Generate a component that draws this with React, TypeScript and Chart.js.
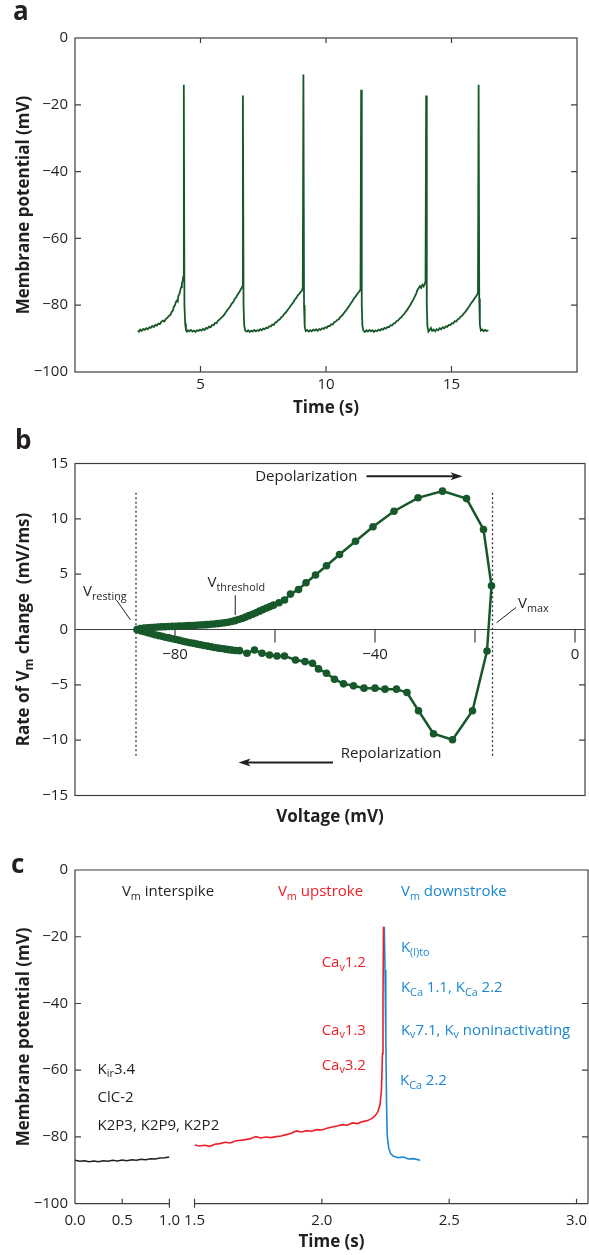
import React, { useEffect, useRef } from "react";
import { Chart, registerables } from "chart.js";

Chart.register(...registerables);

const FONT = "'Open Sans', 'Noto Sans', 'DejaVu Sans', sans-serif";
const INK = "#231f20";
const FRAME = "#3f3f3f";
const GREEN = "#17582a";
const RED = "#ec1f26";
const BLUE = "#1c87d1";

// ---------------- Panel a : spontaneous firing ----------------
const panelAYTicks = [0, -20, -40, -60, -80, -100];
const panelAXTicks = [5, 10, 15];
const traceA: [number, number][] = [
  [2.5, -87.6], [2.55, -87.9], [2.6, -87.3], [2.66, -87.7], [2.72, -87.1], [2.78, -87.4], [2.84, -86.9], [2.9, -87.2],
  [2.96, -86.6], [3.02, -86.8], [3.08, -86.2], [3.14, -86.5], [3.2, -85.9], [3.26, -86.1], [3.32, -85.5], [3.38, -85.7],
  [3.44, -85.0], [3.5, -84.6], [3.56, -84.9], [3.62, -84.1], [3.68, -83.8], [3.74, -83.2], [3.8, -82.9], [3.86, -81.9],
  [3.9, -81.6], [3.94, -80.4], [3.98, -80.1], [4.02, -79.0], [4.06, -78.6], [4.09, -78.9], [4.12, -77.2], [4.16, -76.6],
  [4.2, -75.4], [4.23, -74.6], [4.26, -73.5], [4.29, -72.7], [4.31, -71.5], [4.335, -14.0], [4.36, -80],
  [4.39, -85.5], [4.42, -87.4], [4.46, -87.9], [4.5, -87.5],
  [4.56, -87.8], [4.62, -87.4], [4.68, -87.9], [4.74, -87.6], [4.8, -88.0], [4.86, -87.5], [4.92, -87.7], [4.98, -87.3],
  [5.04, -87.6], [5.1, -87.1], [5.16, -87.4], [5.22, -86.8], [5.28, -87.0], [5.34, -86.4], [5.4, -86.6], [5.46, -85.9],
  [5.52, -86.0], [5.58, -85.3], [5.64, -85.4], [5.7, -84.6], [5.76, -84.3], [5.82, -83.8], [5.88, -83.4], [5.94, -82.9],
  [6.0, -82.2], [6.06, -81.6], [6.12, -81.0], [6.18, -80.4], [6.24, -79.6], [6.3, -79.1], [6.36, -78.2], [6.42, -77.6],
  [6.48, -76.8], [6.53, -76.3], [6.58, -75.6], [6.62, -75.1], [6.665, -74.4], [6.69, -17.2], [6.715, -80],
  [6.74, -86], [6.78, -87.6], [6.84, -87.9],
  [6.9, -87.5], [6.96, -88.0], [7.02, -87.6], [7.08, -87.9], [7.14, -87.4], [7.2, -87.8], [7.26, -87.5], [7.32, -87.7],
  [7.38, -87.2], [7.44, -87.5], [7.5, -87.0], [7.56, -87.2], [7.62, -86.7], [7.68, -86.9], [7.74, -86.3], [7.8, -86.4],
  [7.86, -85.8], [7.92, -85.9], [7.98, -85.2], [8.04, -85.0], [8.1, -84.5], [8.16, -84.2], [8.22, -83.6], [8.28, -83.3],
  [8.34, -82.6], [8.4, -82.2], [8.46, -81.5], [8.52, -81.0], [8.58, -80.3], [8.64, -79.7], [8.7, -79.1], [8.76, -78.3],
  [8.82, -77.8], [8.88, -77.0], [8.94, -76.6], [8.99, -76.0], [9.04, -75.7], [9.075, -74.8], [9.1, -10.9],
  [9.125, -80], [9.15, -86.2], [9.19, -87.7], [9.25, -87.4],
  [9.31, -87.9], [9.37, -87.5], [9.43, -87.8], [9.49, -87.3], [9.55, -87.6], [9.61, -87.2], [9.67, -87.7], [9.73, -87.1],
  [9.79, -87.4], [9.85, -86.9], [9.91, -87.1], [9.97, -86.6], [10.03, -86.8], [10.09, -86.2], [10.15, -86.3], [10.21, -85.7],
  [10.27, -85.8], [10.33, -85.1], [10.39, -84.9], [10.45, -84.4], [10.51, -84.2], [10.57, -83.5], [10.63, -83.2], [10.69, -82.6],
  [10.75, -82.0], [10.81, -81.5], [10.87, -80.8], [10.93, -80.2], [10.99, -79.4], [11.05, -78.8], [11.11, -78.0], [11.17, -77.5],
  [11.23, -76.8], [11.28, -76.3], [11.33, -75.9], [11.375, -75.2], [11.4, -15.5], [11.425, -80],
  [11.45, -86.1], [11.49, -87.6], [11.55, -88.0],
  [11.61, -87.5], [11.67, -87.9], [11.73, -87.4], [11.79, -87.8], [11.85, -87.5], [11.91, -88.0], [11.97, -87.6], [12.03, -87.8],
  [12.09, -87.3], [12.15, -87.6], [12.21, -87.1], [12.27, -87.3], [12.33, -86.8], [12.39, -87.0], [12.45, -86.5], [12.51, -86.6],
  [12.57, -86.0], [12.63, -86.1], [12.69, -85.5], [12.75, -85.4], [12.81, -84.8], [12.87, -84.6], [12.93, -84.0], [12.99, -83.7],
  [13.05, -83.1], [13.11, -82.7], [13.17, -82.0], [13.23, -81.5], [13.29, -80.7], [13.35, -80.1], [13.41, -79.2], [13.47, -78.5],
  [13.53, -77.5], [13.59, -76.6], [13.64, -75.5], [13.69, -74.9], [13.74, -74.3], [13.79, -74.8], [13.84, -73.9], [13.89, -74.4],
  [13.93, -73.6], [13.965, -72.9], [13.99, -17.2], [14.015, -80], [14.04, -86.3], [14.08, -87.9],
  [14.13, -87.4],
  [14.18, -86.8], [14.23, -87.7], [14.29, -87.3], [14.35, -87.8], [14.41, -87.2], [14.47, -87.5], [14.53, -86.9], [14.59, -87.2],
  [14.65, -86.6], [14.71, -86.9], [14.77, -86.3], [14.83, -86.5], [14.89, -85.9], [14.95, -86.0], [15.01, -85.4], [15.07, -85.5],
  [15.13, -84.8], [15.19, -84.9], [15.25, -84.2], [15.31, -84.0], [15.37, -83.4], [15.43, -83.1], [15.49, -82.5], [15.55, -82.0],
  [15.61, -81.4], [15.67, -80.7], [15.73, -80.1], [15.79, -79.3], [15.85, -78.8], [15.91, -78.0], [15.96, -77.6], [16.01, -77.0],
  [16.055, -76.2], [16.08, -14.0], [16.105, -78], [16.13, -85.8], [16.17, -87.6], [16.22, -87.3],
  [16.28, -87.8], [16.34, -87.4], [16.4, -87.7], [16.47, -87.5],
];

// ---------------- Panel b : phase plot ----------------
const phaseVoltage = [
  -87.6, -86.9, -86.2, -85.5, -84.8, -84.1, -83.4, -82.7, -82.0, -81.3, -80.6, -79.9, -79.2, -78.5, -77.8, -77.1,
  -76.4, -75.7, -75.0, -74.3, -73.6, -72.9, -72.2, -71.5, -70.8, -70.1, -69.4, -68.7, -68.0, -67.3, -66.6, -65.9,
  -65.2, -64.5, -63.8, -63.1, -62.4, -61.7, -61.0, -60.3, -59.2, -58.1, -56.9, -55.3, -53.8, -51.9, -49.7, -47.1,
  -43.9, -40.4, -36.2, -31.4, -26.5, -21.7, -18.3, -16.7,
  -17.6, -20.5, -24.5, -28.3, -31.3, -33.6, -35.7, -38.0, -40.0, -42.2, -44.3, -46.3, -48.1, -49.7, -51.3, -52.5,
  -54.0, -55.9, -58.1, -59.6, -61.1, -62.6, -64.1, -65.6, -67.1, -67.9, -68.6, -69.3, -70.0, -70.7, -71.4, -72.1,
  -72.8, -73.5, -74.2, -74.9, -75.6, -76.3, -77.0, -77.7, -78.4, -79.1, -79.8, -80.5, -81.2, -81.9, -82.6, -83.3,
  -84.0, -84.7, -85.4, -86.1, -86.8, -87.5,
];
const phaseRate = [
  0.0, 0.08, 0.12, 0.15, 0.18, 0.2, 0.22, 0.24, 0.25, 0.27, 0.28, 0.3, 0.31, 0.32, 0.33, 0.35,
  0.36, 0.38, 0.4, 0.42, 0.44, 0.47, 0.5, 0.53, 0.57, 0.61, 0.66, 0.72, 0.8, 0.9, 1.0, 1.12,
  1.25, 1.38, 1.52, 1.66, 1.8, 1.94, 2.07, 2.2, 2.42, 2.66, 3.2, 3.62, 4.23, 4.92, 5.76, 6.78,
  7.98, 9.28, 10.69, 11.9, 12.5, 11.83, 9.04, 3.95,
  -1.94, -7.34, -9.96, -9.42, -7.34, -5.69, -5.39, -5.39, -5.3, -5.3, -5.09, -4.91, -4.49, -3.95, -3.56, -3.05,
  -2.9, -2.75, -2.39, -2.39, -2.3, -2.15, -1.85, -2.15, -1.91, -1.9, -1.86, -1.82, -1.77, -1.72, -1.68, -1.62,
  -1.56, -1.5, -1.44, -1.38, -1.32, -1.25, -1.2, -1.13, -1.06, -0.98, -0.9, -0.83, -0.76, -0.7, -0.62, -0.55,
  -0.47, -0.39, -0.3, -0.21, -0.12, -0.02,
];
const panelBXTicks = [-80, -60, -40, -20, 0];
const panelBXLabels = [-80, -40, 0];
const panelBYTicks = [15, 10, 5, 0, -5, -10, -15];
const vResting = -87.8;
const vMax = -16.5;

// ---------------- Panel c : one spike, broken time axis ----------------
const interspikeTrace: [number, number][] = [
  [0, -87.0], [0.05, -87.3], [0.1, -87.1], [0.15, -87.4], [0.2, -87.2], [0.25, -87.4], [0.3, -87.1], [0.35, -87.3],
  [0.4, -87.0], [0.45, -87.2], [0.5, -86.9], [0.55, -87.1], [0.6, -86.8], [0.65, -87.0], [0.7, -86.7], [0.75, -86.8],
  [0.8, -86.5], [0.85, -86.6], [0.9, -86.3], [0.95, -86.2], [1.0, -86.0],
];
const upstrokeTrace: [number, number][] = [
  [1.5, -82.4], [1.52, -82.7], [1.54, -82.5], [1.56, -82.8], [1.58, -82.2], [1.6, -82.0], [1.62, -81.6], [1.64, -81.8],
  [1.66, -81.2], [1.68, -81.0], [1.7, -80.8], [1.72, -80.5], [1.74, -79.9], [1.76, -80.3], [1.78, -80.0], [1.8, -80.2],
  [1.82, -79.9], [1.84, -79.7], [1.86, -79.3], [1.88, -78.9], [1.9, -78.2], [1.92, -78.5], [1.94, -78.1], [1.96, -78.3],
  [1.98, -77.8], [2.0, -77.9], [2.02, -77.4], [2.04, -77.0], [2.06, -76.7], [2.08, -76.3], [2.1, -76.5], [2.12, -75.8],
  [2.14, -76.0], [2.16, -75.4], [2.18, -75.1], [2.2, -74.3], [2.21, -73.6], [2.22, -72.4], [2.228, -70.5], [2.234, -66],
  [2.238, -55], [2.24, -40], [2.242, -17.0],
];
const downstrokeTrace: [number, number][] = [
  [2.245, -17.0], [2.248, -30], [2.251, -50], [2.254, -70], [2.257, -80], [2.263, -83.5], [2.27, -85.0], [2.28, -85.7],
  [2.3, -86.2], [2.32, -86.0], [2.34, -86.6], [2.36, -86.5], [2.386, -87.0],
];
const panelCYTicks = [0, -20, -40, -60, -80, -100];
const panelCXTicksLeft = [0, 0.5, 1.0];
const panelCXTicksRight = [1.5, 2.0, 2.5, 3.0];
const breakStart = 1.0;
const breakEnd = 1.5;

// ---------------- helpers ----------------
const fmtMinus = (v: number) => (v < 0 ? "\u2212" + Math.abs(v) : String(v));
type Seg = [string, boolean?];

function drawRich(ctx: any, segs: Seg[], x: number, y: number, size: number, color: string, align = "left", weight = "normal") {
  const sub = size * 0.72;
  let w = 0;
  for (const [t, s] of segs) {
    ctx.font = `${weight} ${s ? sub : size}px ${FONT}`;
    w += ctx.measureText(t).width;
  }
  let cx = align === "left" ? x : align === "right" ? x - w : x - w / 2;
  ctx.fillStyle = color;
  ctx.textAlign = "left";
  ctx.textBaseline = "alphabetic";
  for (const [t, s] of segs) {
    ctx.font = `${weight} ${s ? sub : size}px ${FONT}`;
    ctx.fillText(t, cx, s ? y + size * 0.24 : y);
    cx += ctx.measureText(t).width;
  }
}

function drawVTitle(ctx: any, segs: Seg[], cx: number, cy: number, size: number) {
  ctx.save();
  ctx.translate(cx, cy);
  ctx.rotate(-Math.PI / 2);
  drawRich(ctx, segs, 0, size * 0.36, size, INK, "center", "bold");
  ctx.restore();
}

function arrowH(ctx: any, x1: number, x2: number, y: number) {
  const dir = Math.sign(x2 - x1);
  ctx.save();
  ctx.strokeStyle = INK;
  ctx.fillStyle = INK;
  ctx.lineWidth = 2;
  ctx.beginPath();
  ctx.moveTo(x1, y);
  ctx.lineTo(x2 - dir * 8, y);
  ctx.stroke();
  ctx.beginPath();
  ctx.moveTo(x2, y);
  ctx.lineTo(x2 - dir * 12, y - 4);
  ctx.lineTo(x2 - dir * 9, y);
  ctx.lineTo(x2 - dir * 12, y + 4);
  ctx.closePath();
  ctx.fill();
  ctx.restore();
}

function line(ctx: any, x1: number, y1: number, x2: number, y2: number) {
  ctx.moveTo(x1, y1);
  ctx.lineTo(x2, y2);
}

const tickFont = { size: 15, family: FONT };

function yAxis(min: number, max: number, values: number[]) {
  return {
    type: "linear",
    position: "left",
    min,
    max,
    grid: { display: false, drawTicks: false },
    border: { display: false },
    afterBuildTicks: (s: any) => {
      s.ticks = values.map((v) => ({ value: v }));
    },
    afterFit: (s: any) => {
      s.width = 75;
    },
    ticks: { padding: 7, color: INK, font: tickFont, autoSkip: false, callback: (v: number) => fmtMinus(v) },
  };
}

function xAxis(min: number, max: number, values: number[], labels: (v: number) => string, height: number, padding: number, extra: any = {}) {
  return {
    type: "linear",
    axis: "x",
    position: "bottom",
    min,
    max,
    grid: { display: false, drawTicks: false },
    border: { display: false },
    afterBuildTicks: (s: any) => {
      s.ticks = values.map((v) => ({ value: v }));
    },
    afterFit: (s: any) => {
      s.height = height;
      s.paddingLeft = 0;
      s.paddingRight = 0;
    },
    ticks: { padding, color: INK, font: tickFont, autoSkip: false, maxRotation: 0, callback: labels },
    ...extra,
  };
}

const baseOptions = {
  animation: false,
  responsive: false,
  maintainAspectRatio: false,
  events: [],
  plugins: { legend: { display: false }, tooltip: { enabled: false } },
};

// ---------------- chart configs ----------------
function configA(): any {
  const plugin = {
    id: "panelA",
    beforeDatasetsDraw(chart: any) {
      const { ctx, chartArea: ca } = chart;
      const xs = chart.scales.x;
      const ys = chart.scales.y;
      ctx.save();
      ctx.strokeStyle = FRAME;
      ctx.lineWidth = 1.2;
      ctx.strokeRect(ca.left, ca.top, ca.right - ca.left, ca.bottom - ca.top);
      ctx.beginPath();
      panelAXTicks.forEach((v) => {
        const px = xs.getPixelForValue(v);
        line(ctx, px, ca.bottom, px, ca.bottom - 6);
        line(ctx, px, ca.top, px, ca.top + 5);
      });
      panelAYTicks.slice(1, -1).forEach((v) => {
        const py = ys.getPixelForValue(v);
        line(ctx, ca.left, py, ca.left + 6, py);
        line(ctx, ca.right, py, ca.right - 6, py);
      });
      ctx.stroke();
      ctx.restore();
    },
    afterDraw(chart: any) {
      const { ctx, chartArea: ca } = chart;
      ctx.save();
      drawRich(ctx, [["a"]], 13, 20, 26, INK, "left", "bold");
      drawVTitle(ctx, [["Membrane potential (mV)"]], 22.5, (ca.top + ca.bottom) / 2, 17);
      drawRich(ctx, [["Time (s)"]], (ca.left + ca.right) / 2, 413.3, 17, INK, "center", "bold");
      ctx.restore();
    },
  };
  return {
    type: "scatter",
    data: {
      datasets: [
        {
          data: traceA.map(([x, y]) => ({ x, y })),
          showLine: true,
          borderColor: GREEN,
          borderWidth: 1.8,
          pointRadius: 0,
          tension: 0,
        },
      ],
    },
    options: {
      ...baseOptions,
      layout: { padding: { top: 38, left: 0, right: 12, bottom: 0 } },
      scales: {
        y: yAxis(-100, 0, panelAYTicks),
        x: xAxis(0, 20, [0, ...panelAXTicks, 20], (v: number) => (panelAXTicks.includes(v) ? String(v) : ""), 48, 4),
      },
    },
    plugins: [plugin],
  };
}

function configB(): any {
  const plugin = {
    id: "panelB",
    beforeDatasetsDraw(chart: any) {
      const { ctx, chartArea: ca } = chart;
      const xs = chart.scales.x;
      const ys = chart.scales.y;
      ctx.save();
      ctx.strokeStyle = FRAME;
      ctx.lineWidth = 1.2;
      ctx.strokeRect(ca.left, ca.top, ca.right - ca.left, ca.bottom - ca.top);
      const y0 = ys.getPixelForValue(0);
      ctx.beginPath();
      line(ctx, ca.left, y0, ca.right, y0);
      panelBYTicks.forEach((v) => {
        if (v === 0 || v === 15 || v === -15) return;
        const py = ys.getPixelForValue(v);
        line(ctx, ca.left, py, ca.left + 6, py);
        line(ctx, ca.right, py, ca.right - 6, py);
      });
      panelBXTicks.forEach((v) => {
        const px = xs.getPixelForValue(v);
        line(ctx, px, y0, px, y0 + 13);
      });
      ctx.stroke();
      // dotted markers for V resting and V max
      ctx.setLineDash([2, 2.5]);
      ctx.lineWidth = 1.3;
      ctx.strokeStyle = "#333";
      ctx.beginPath();
      [vResting, vMax].forEach((v) => {
        const px = xs.getPixelForValue(v);
        line(ctx, px, ys.getPixelForValue(12.35), px, ys.getPixelForValue(-11.4));
      });
      ctx.stroke();
      ctx.restore();
    },
    afterDraw(chart: any) {
      const { ctx, chartArea: ca } = chart;
      const xs = chart.scales.x;
      const ys = chart.scales.y;
      const X = (v: number) => xs.getPixelForValue(v);
      const Y = (v: number) => ys.getPixelForValue(v);
      ctx.save();
      drawRich(ctx, [["b"]], 15, 29, 26, INK, "left", "bold");
      drawVTitle(ctx, [["Rate of V"], ["m", true], [" change  (mV/ms)"]], 22.5, (ca.top + ca.bottom) / 2, 17);
      drawRich(ctx, [["Voltage (mV)"]], (ca.left + ca.right) / 2, 401.5, 17, INK, "center", "bold");

      drawRich(ctx, [["Depolarization"]], X(-43.5), Y(13.41), 15, INK, "right");
      arrowH(ctx, X(-41.7), X(-22.5), Y(13.85));
      drawRich(ctx, [["Repolarization"]], X(-46.85), Y(-11.6), 15, INK, "left");
      arrowH(ctx, X(-48.4), X(-67.3), Y(-12.02));

      drawRich(ctx, [["V"], ["resting", true]], X(-98.4), Y(3.02), 15, INK, "left");
      drawRich(ctx, [["V"], ["threshold", true]], X(-73.5), Y(3.84), 15, INK, "left");
      drawRich(ctx, [["V"], ["max", true]], X(-11.4), Y(1.94), 15, INK, "left");
      ctx.strokeStyle = INK;
      ctx.lineWidth = 1;
      ctx.beginPath();
      line(ctx, X(-91.7), Y(2.66), X(-88.9), Y(0.86));
      line(ctx, X(-67.95), Y(3.11), X(-67.95), Y(1.31));
      line(ctx, X(-11.78), Y(1.99), X(-15.7), Y(0.61));
      ctx.stroke();
      ctx.restore();
    },
  };
  return {
    type: "scatter",
    data: {
      datasets: [
        {
          data: phaseVoltage.map((v, i) => ({ x: v, y: phaseRate[i] })),
          showLine: true,
          borderColor: GREEN,
          borderWidth: 2.5,
          pointRadius: 3.8,
          pointBackgroundColor: GREEN,
          pointBorderWidth: 0,
          tension: 0,
        },
      ],
    },
    options: {
      ...baseOptions,
      layout: { padding: { top: 43.5, left: 0, right: 1, bottom: 44.5 } },
      scales: {
        y: yAxis(-15, 15, panelBYTicks),
        x: {
          type: "linear",
          min: -100,
          max: 2,
          position: { y: 0 },
          grid: { display: false, drawTicks: false },
          border: { display: false },
          afterBuildTicks: (s: any) => {
            s.ticks = panelBXTicks.map((v) => ({ value: v }));
          },
          afterFit: (s: any) => {
            s.paddingLeft = 0;
            s.paddingRight = 0;
          },
          ticks: {
            padding: 16.5,
            color: INK,
            font: tickFont,
            autoSkip: false,
            maxRotation: 0,
            callback: (v: number) => (panelBXLabels.includes(v) ? fmtMinus(v) : ""),
          },
        },
      },
    },
    plugins: [plugin],
  };
}

function configC(): any {
  const plugin = {
    id: "panelC",
    beforeDatasetsDraw(chart: any) {
      const { ctx, chartArea: ca } = chart;
      const xa = chart.scales.xa;
      const xb = chart.scales.xb;
      const ys = chart.scales.y;
      const pBreak1 = xa.getPixelForValue(breakStart);
      const pBreak2 = xb.getPixelForValue(breakEnd);
      ctx.save();
      ctx.strokeStyle = FRAME;
      ctx.lineWidth = 1.2;
      ctx.beginPath();
      ctx.moveTo(ca.left, ca.bottom);
      ctx.lineTo(ca.left, ca.top);
      ctx.lineTo(ca.right, ca.top);
      ctx.lineTo(ca.right, ca.bottom);
      ctx.stroke();
      ctx.beginPath();
      line(ctx, ca.left, ca.bottom, pBreak1, ca.bottom);
      line(ctx, pBreak2, ca.bottom, ca.right, ca.bottom);
      line(ctx, pBreak1, ca.bottom + 4, pBreak1, ca.bottom - 5);
      line(ctx, pBreak2, ca.bottom + 4, pBreak2, ca.bottom - 5);
      panelCXTicksLeft.forEach((v) => {
        if (v === 0) return;
        const px = xa.getPixelForValue(v);
        line(ctx, px, ca.bottom, px, ca.bottom - 5);
      });
      panelCXTicksRight.forEach((v) => {
        const px = xb.getPixelForValue(v);
        line(ctx, px, ca.bottom, px, ca.bottom - 5);
      });
      panelCYTicks.slice(1, -1).forEach((v) => {
        const py = ys.getPixelForValue(v);
        line(ctx, ca.left, py, ca.left + 6, py);
        line(ctx, ca.right, py, ca.right - 6, py);
      });
      ctx.stroke();
      ctx.restore();
    },
    afterDraw(chart: any) {
      const { ctx, chartArea: ca } = chart;
      const xa = chart.scales.xa;
      const xb = chart.scales.xb;
      const ys = chart.scales.y;
      const A = (v: number) => xa.getPixelForValue(v);
      const B = (v: number) => xb.getPixelForValue(v);
      const Y = (v: number) => ys.getPixelForValue(v);
      ctx.save();
      drawRich(ctx, [["c"]], 11, 33, 26, INK, "left", "bold");
      drawVTitle(ctx, [["Membrane potential (mV)"]], 22.5, (ca.top + ca.bottom) / 2, 17);
      drawRich(ctx, [["Time (s)"]], (ca.left + ca.right) / 2, 406.5, 17, INK, "center", "bold");

      drawRich(ctx, [["V"], ["m", true], [" interspike"]], A(0.497), Y(-7.94), 15, INK);
      drawRich(ctx, [["V"], ["m", true], [" upstroke"]], B(1.8275), Y(-7.94), 15, RED);
      drawRich(ctx, [["V"], ["m", true], [" downstroke"]], B(2.3105), Y(-7.94), 15, BLUE);

      drawRich(ctx, [["Ca"], ["v", true], ["1.2"]], B(2.173), Y(-29.2), 15, RED, "right");
      drawRich(ctx, [["Ca"], ["v", true], ["1.3"]], B(2.173), Y(-49.4), 15, RED, "right");
      drawRich(ctx, [["Ca"], ["v", true], ["3.2"]], B(2.173), Y(-59.8), 15, RED, "right");

      drawRich(ctx, [["K"], ["(l)to", true]], B(2.3105), Y(-24.7), 15, BLUE);
      drawRich(ctx, [["K"], ["Ca", true], [" 1.1, K"], ["Ca", true], [" 2.2"]], B(2.3105), Y(-36.7), 15, BLUE);
      drawRich(ctx, [["K"], ["v", true], ["7.1, K"], ["v", true], [" noninactivating"]], B(2.3105), Y(-49.4), 15, BLUE);
      drawRich(ctx, [["K"], ["Ca", true], [" 2.2"]], B(2.3066), Y(-64.4), 15, BLUE);

      drawRich(ctx, [["K"], ["ir", true], ["3.4"]], A(0.239), Y(-61.0), 15, INK);
      drawRich(ctx, [["ClC-2"]], A(0.239), Y(-69.4), 15, INK);
      drawRich(ctx, [["K2P3, K2P9, K2P2"]], A(0.239), Y(-77.8), 15, INK);
      ctx.restore();
    },
  };
  const fmt1 = (v: number) => v.toFixed(1);
  return {
    type: "scatter",
    data: {
      datasets: [
        {
          data: interspikeTrace.map(([x, y]) => ({ x, y })),
          xAxisID: "xa",
          yAxisID: "y",
          showLine: true,
          borderColor: INK,
          borderWidth: 1.5,
          pointRadius: 0,
        },
        {
          data: upstrokeTrace.map(([x, y]) => ({ x, y })),
          xAxisID: "xb",
          yAxisID: "y",
          showLine: true,
          borderColor: RED,
          borderWidth: 1.6,
          pointRadius: 0,
        },
        {
          data: downstrokeTrace.map(([x, y]) => ({ x, y })),
          xAxisID: "xb",
          yAxisID: "y",
          showLine: true,
          borderColor: BLUE,
          borderWidth: 1.6,
          pointRadius: 0,
        },
      ],
    },
    options: {
      ...baseOptions,
      layout: { padding: { top: 30, left: 0, right: 1, bottom: 0 } },
      scales: {
        y: yAxis(-100, 0, panelCYTicks),
        xa: xAxis(0, breakStart, panelCXTicksLeft, fmt1, 51.3, 8, { stack: "time", stackWeight: 94.4 }),
        xgap: {
          type: "linear",
          axis: "x",
          position: "bottom",
          min: 0,
          max: 1,
          stack: "time",
          stackWeight: 25.1,
          grid: { display: false, drawTicks: false },
          border: { display: false },
          ticks: { display: false },
          afterFit: (s: any) => {
            s.height = 51.3;
            s.paddingLeft = 0;
            s.paddingRight = 0;
          },
        },
        xb: xAxis(breakEnd, 3.045, panelCXTicksRight, fmt1, 51.3, 8, { stack: "time", stackWeight: 393.4 }),
      },
    },
    plugins: [plugin],
  };
}

export default function App() {
  const refA = useRef<HTMLCanvasElement>(null);
  const refB = useRef<HTMLCanvasElement>(null);
  const refC = useRef<HTMLCanvasElement>(null);

  useEffect(() => {
    Chart.defaults.font.family = FONT;
    Chart.defaults.color = INK;
    const charts = [
      new Chart(refA.current as HTMLCanvasElement, configA()),
      new Chart(refB.current as HTMLCanvasElement, configB()),
      new Chart(refC.current as HTMLCanvasElement, configC()),
    ];
    return () => charts.forEach((c) => c.destroy());
  }, []);

  const cs = (top: number, h: number): React.CSSProperties => ({
    position: "absolute",
    left: 0,
    top,
    width: 589,
    height: h,
  });

  return (
    <div style={{ position: "absolute", left: 0, top: 0, width: 589, height: 1255, background: "#fff" }}>
      <canvas ref={refA} width={589} height={420} style={cs(0, 420)} />
      <canvas ref={refB} width={589} height={420} style={cs(420, 420)} />
      <canvas ref={refC} width={589} height={415} style={cs(840, 415)} />
    </div>
  );
}
